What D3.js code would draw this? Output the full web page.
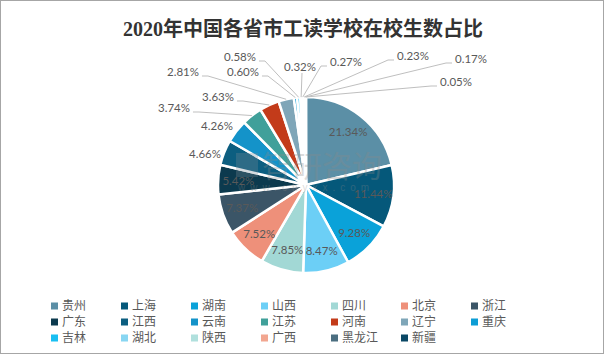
<!DOCTYPE html>
<html><head><meta charset="utf-8">
<script src="https://cdn.jsdelivr.net/npm/d3@7"></script>
<style>body{margin:0;background:#fff}svg{display:block}</style>
</head><body>
<svg id="c" width="605" height="355"></svg>
<script>
const title = "2020年中国各省市工读学校在校生数占比";
const provinces = ["贵州","上海","湖南","山西","四川","北京","浙江","广东","江西","云南","江苏","河南","辽宁","重庆","吉林","湖北","陕西","广西","黑龙江","新疆"];
const shares = [21.34,11.44,9.28,8.47,7.85,7.52,7.37,5.42,4.66,4.26,3.74,3.63,2.81,0.60,0.58,0.32,0.27,0.23,0.17,0.05];
const colors = ["#5B8FA6","#05587A","#0AA2D9","#6CCFF6","#A2D8D5","#EE907A","#3B5567","#0C3A4E","#0C5E80","#1493C9","#40A09A","#C33B1A","#7FA6B8","#0D9DD5","#19BFF2","#88D6F2","#B0E0DD","#F2A690","#4B6E80","#0A4865"];
// label layout for outside labels: offset of label centre from pie centre (layout, not data)
const outsideLabelOffsets = {
  "江西":[-101,-31,false], "云南":[-89,-59,false], "江苏":[-132,-77,true], "河南":[-88,-88,true],
  "辽宁":[-123,-113,true], "重庆":[-63,-113,true], "吉林":[-66,-128,true], "湖北":[-6,-118,true],
  "陕西":[40,-123,true], "广西":[107,-129,true], "黑龙江":[165,-126,true], "新疆":[150,-103,true]
};

const svg = d3.select("#c");
svg.append("rect").attr("x",0.5).attr("y",0.5).attr("width",603).attr("height",353)
  .attr("fill","#fff").attr("stroke","#a6a6a6").attr("stroke-width",1);

svg.append("text").attr("x",303).attr("y",36).attr("text-anchor","middle")
  .attr("font-family","'Liberation Serif','Noto Sans CJK SC',serif").attr("font-weight","bold")
  .attr("font-size",20).attr("fill","#333").text(title);

const cx = 306, cy = 185, r = 88;
const data = provinces.map((p,i)=>({name:p, value:shares[i], color:colors[i]}));
const pie = d3.pie().value(d=>d.value).sort(null);
const arcs = pie(data);
const arc = d3.arc().innerRadius(0).outerRadius(r);
const g = svg.append("g").attr("transform",`translate(${cx},${cy})`);
g.selectAll("path.s").data(arcs).join("path").attr("class","s")
  .attr("d",arc).attr("fill",d=>d.data.color).attr("stroke","#fff").attr("stroke-width",2.5).attr("stroke-linejoin","round");

// watermark
const wm = svg.append("g").attr("opacity",0.3);
wm.append("rect").attr("x",236).attr("y",153).attr("width",22).attr("height",24).attr("fill","#7a8a96");
wm.append("text").attr("x",262).attr("y",177).attr("font-family","'Noto Sans CJK SC'").attr("font-size",30)
  .attr("fill","#8a8a8a").text("智研咨询");
wm.append("text").attr("x",238).attr("y",191).attr("font-family","'Liberation Sans'").attr("font-size",10)
  .attr("letter-spacing",5).attr("fill","#8a8a8a").text("www.chyxx.com");

const labFont = "Lato,'Liberation Sans',sans-serif";
const labelArc = d3.arc().innerRadius(r*0.77).outerRadius(r*0.77);
arcs.forEach(d=>{
  const off = outsideLabelOffsets[d.data.name];
  const txt = d.data.value.toFixed(2)+"%";
  if(!off){
    const [x,y] = labelArc.centroid(d);
    g.append("text").attr("x",x).attr("y",y).attr("dy","0.35em").attr("text-anchor","middle")
      .attr("font-family",labFont).attr("font-size",11.5).attr("fill","#595959").text(txt);
    return;
  }
  const [lx,ly,line] = off;
  const t = g.append("text").attr("x",lx).attr("y",ly).attr("dy","0.35em").attr("text-anchor","middle")
    .attr("font-family",labFont).attr("font-size",11.5).attr("fill","#595959").text(txt);
  if(line){
    const mid = (d.startAngle+d.endAngle)/2;
    const ax = r*Math.sin(mid), ay = -r*Math.cos(mid);
    const w = t.node().getComputedTextLength();
    let pts;
    if(Math.abs(lx-ax) < 12){
      pts = [[lx+2, ly+6],[ax,ay]];
    } else if(lx < ax){
      const sx = lx + w/2 + 3;
      pts = [[sx, ly+4],[sx+6, ly+4],[ax,ay]];
    } else {
      const sx = lx - w/2 - 3;
      pts = [[sx, ly+4],[sx-6, ly+4],[ax,ay]];
    }
    g.append("path").attr("d",d3.line()(pts)).attr("fill","none").attr("stroke","#bfbfbf").attr("stroke-width",1);
  }
});

// legend
const cols = 7, colW = 70, rowH = 16, lx0 = 51, ly0 = 306;
const lg = svg.append("g");
data.forEach((d,i)=>{
  const c = i%cols, rr = Math.floor(i/cols);
  const x = lx0 + c*colW, y = ly0 + rr*rowH;
  lg.append("rect").attr("x",x).attr("y",y-3.5).attr("width",7).attr("height",7).attr("fill",d.color);
  lg.append("text").attr("x",x+11).attr("y",y).attr("dy","0.36em")
    .attr("font-family","'Noto Sans CJK SC',sans-serif").attr("font-size",12).attr("fill","#595959").text(d.name);
});
</script>
</body></html>
